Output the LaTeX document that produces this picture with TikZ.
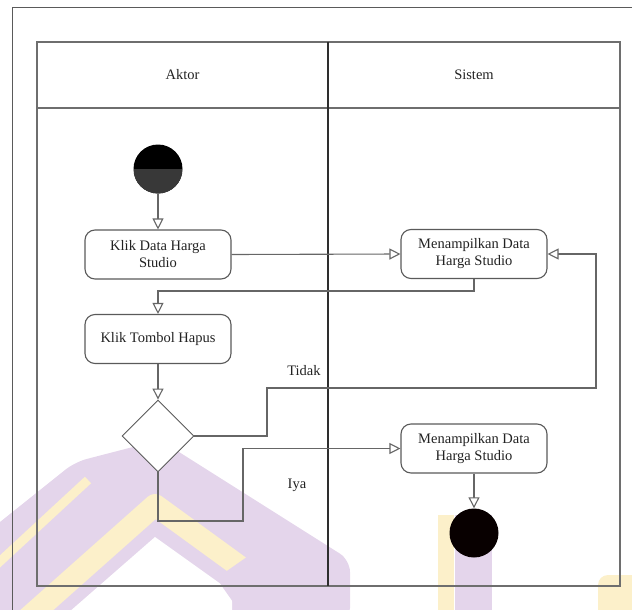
\documentclass[tikz,border=0pt]{standalone}
\usepackage{fontspec}
\setmainfont{Liberation Serif}
\usetikzlibrary{arrows.meta,shapes.geometric}

\definecolor{laneGray}{HTML}{6E6E6E}
\definecolor{divGray}{HTML}{2E2E2E}
\definecolor{boxGray}{HTML}{5A5A5A}
\definecolor{lineGray}{HTML}{666666}
\definecolor{txt}{HTML}{222222}
\definecolor{wmPurple}{HTML}{E4D5EB}
\definecolor{wmYellow}{HTML}{FCF0CA}

\begin{document}
\begin{tikzpicture}[x=1pt,y=-1pt,
  lbl/.style={font=\fontsize{14.5}{17}\selectfont,text=txt},
  act/.style={lbl,draw=boxGray,line width=1.1pt,rounded corners=10pt,fill=white,
    minimum width=146pt,minimum height=49pt,align=center,inner sep=0pt},
  decision/.style={diamond,draw=boxGray,line width=0.9pt,fill=white,
    minimum width=72pt,minimum height=72pt,inner sep=0pt},
  startdot/.style={circle,fill=black,minimum size=49pt,inner sep=0pt,
    path picture={\fill[black!78] (path picture bounding box.west) rectangle (path picture bounding box.south east);}},
  enddot/.style={circle,fill=black!92!red!40!black,minimum size=49pt,inner sep=0pt},
  flow/.style={draw=lineGray,line width=1.1pt,-{Triangle[open,length=11pt,width=11pt,fill=white]}}]

\useasboundingbox (0,0) rectangle (632,610);

% faint logo watermark behind the diagram
\begin{scope}
  \clip (0,0) rectangle (632,610);
  % purple roof
  \fill[wmPurple,rounded corners=12pt]
    (-10,530) -- (75,462) -- (160,440) -- (350,560) -- (350,620) -- (-10,620) -- cycle;
  % yellow inner roof band and white core
  \draw[wmYellow,line width=22pt,line join=round] (20,625) -- (155,505) -- (265,585);
  \fill[white] (60,620) -- (155,537) -- (232,592) -- (232,620) -- cycle;
  % yellow strip on the outer left edge
  \draw[wmYellow,line width=9pt] (-5,566) -- (88,480);
  % purple block at the bottom
  \fill[wmPurple,rounded corners=8pt,rotate around={35:(275,580)}] (228,545) rectangle (322,625);
  % stripes under the final node
  \fill[wmYellow] (438,515) rectangle (454,610);
  \fill[wmPurple] (455,515) rectangle (492,610);
  \fill[wmYellow,rounded corners=10pt] (598,575) rectangle (660,640);
\end{scope}

% outer page border
\begin{scope}
  \clip (0,0) rectangle (632,610);
  \draw[boxGray,line width=1pt] (12,620) -- (12,8) -- (640,8);
\end{scope}

% swimlane frame
\draw[laneGray,line width=1.5pt] (37,42) rectangle (620,586);
\draw[laneGray,line width=1.5pt] (37,108) -- (620,108);
\draw[divGray,line width=1.4pt] (328,42) -- (328,586);
\node[lbl] (hAktor) at (182.5,75) {Aktor};
\node[lbl] (hSistem) at (474,75) {Sistem};

% activity nodes
\node[startdot] (start) at (158,169) {};
\node[act] (a1) at (158,254.5) {Klik Data Harga\\Studio};
\node[act] (a2) at (158,339) {Klik Tombol Hapus};
\node[decision] (dec) at (158,436) {};
\node[act] (s1) at (474,254) {Menampilkan Data\\Harga Studio};
\node[act] (s2) at (474,448.5) {Menampilkan Data\\Harga Studio};
\node[enddot] (fin) at (474,533) {};

% bend points of the routed connectors
\coordinate (j1) at (474,291);
\coordinate (t1) at (267,388);
\coordinate (t2) at (596,388);
\coordinate (y1) at (243,521);

% connectors
\draw[flow] (start) -- (a1);
\draw[flow] (a1.east) -- (s1.west);
\draw[flow] (s1.south) -- (j1) -| (a2.north);
\draw[flow] (a2) -- (dec);
\draw[flow] (dec.east) -| (t1) -- (t2) |- (s1.east);
\draw[flow] (dec.south) |- (y1) |- (s2.west);
\draw[flow] (s2) -- (fin);

% guard labels
\node[lbl] (lTidak) at (304,371) {Tidak};
\node[lbl] (lIya) at (297,485) {Iya};
\end{tikzpicture}
\end{document}
